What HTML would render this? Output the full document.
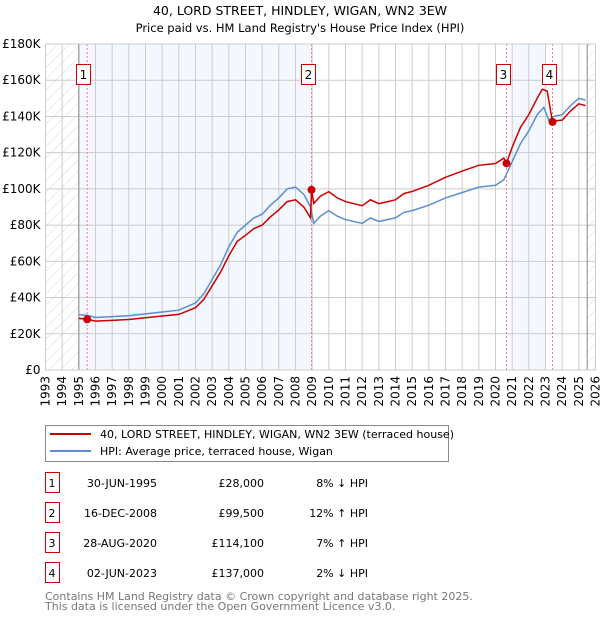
<!DOCTYPE html>
<html><head><meta charset="utf-8"><style>
body{margin:0;background:#fff}
svg text{font-family:"DejaVu Sans","Liberation Sans",sans-serif}
</style></head><body>
<svg id="c" width="600" height="620" xmlns="http://www.w3.org/2000/svg">
<defs><pattern id="h" width="8" height="8" patternUnits="userSpaceOnUse" patternTransform="rotate(45)"><line x1="0" y1="0" x2="0" y2="8" stroke="#d8d8d8" stroke-width="1"/></pattern></defs>
<text x="300" y="15" text-anchor="middle" font-size="12.5">40, LORD STREET, HINDLEY, WIGAN, WN2 3EW</text>
<text x="300" y="32" text-anchor="middle" font-size="11.5">Price paid vs. HM Land Registry's House Price Index (HPI)</text>
<g id="plot"></g>
<g>
<rect x="45.5" y="425.5" width="403" height="36" fill="#fff" stroke="#888"/>
<line x1="50" y1="434" x2="91" y2="434" stroke="#cc0000" stroke-width="2"/>
<text x="100" y="438" font-size="11">40, LORD STREET, HINDLEY, WIGAN, WN2 3EW (terraced house)</text>
<line x1="50" y1="451" x2="91" y2="451" stroke="#5b8fd0" stroke-width="2"/>
<text x="100" y="455" font-size="11">HPI: Average price, terraced house, Wigan</text>
</g>
<g id="tbl" font-size="11"></g>
<text x="45" y="600" font-size="11" fill="#777">Contains HM Land Registry data © Crown copyright and database right 2025.</text>
<text x="45" y="610" font-size="11" fill="#777">This data is licensed under the Open Government Licence v3.0.</text>
</svg>
<script>
const hpiYears=[1995.0,1995.5,1996,1997,1998,1999,2000,2001,2002,2002.5,2003,2003.5,2004,2004.5,2005,2005.5,2006,2006.5,2007,2007.5,2008,2008.5,2008.9,2009.1,2009.5,2010,2010.5,2011,2012,2012.5,2013,2014,2014.5,2015,2016,2017,2018,2019,2020,2020.5,2021,2021.5,2022,2022.5,2022.9,2023.2,2023.5,2024,2024.5,2025,2025.4];
const hpiValues=[30500,30200,29000,29500,30000,31000,32000,33000,37000,42000,50000,58000,68000,76000,80000,84000,86000,91000,95000,100000,101000,97000,90000,81000,85000,88000,85000,83000,81000,84000,82000,84000,87000,88000,91000,95000,98000,101000,102000,105000,115000,125000,132000,141000,145000,138000,140000,141000,146000,150000,149000];
const priceYears=[1995.0,1995.5,1996,1997,1998,1999,2000,2001,2002,2002.5,2003,2003.5,2004,2004.5,2005,2005.5,2006,2006.5,2007,2007.5,2008,2008.5,2008.9,2008.96,2009.1,2009.5,2010,2010.5,2011,2012,2012.5,2013,2014,2014.5,2015,2016,2017,2018,2019,2020,2020.5,2020.66,2021,2021.5,2022,2022.5,2022.8,2023.1,2023.42,2023.5,2024,2024.5,2025,2025.4];
const priceValues=[28500,28000,27000,27400,27900,28800,29800,30700,34400,39000,46500,54000,63000,71000,74400,78000,80000,84600,88400,93000,94000,90000,84000,99500,92000,96000,98500,95000,93000,90700,94000,91800,94000,97400,98600,102000,106400,109800,113000,114000,117000,114100,123000,134000,141000,150000,155000,154000,137000,137500,138000,143000,147000,146000];
const saleYears=[1995.5,2008.96,2020.66,2023.42];
const salePrices=[28000,99500,114100,137000];
const saleDates=["30-JUN-1995","16-DEC-2008","28-AUG-2020","02-JUN-2023"];
const salePriceLabels=["£28,000","£99,500","£114,100","£137,000"];
const saleHpiLabels=["8% ↓ HPI","12% ↑ HPI","7% ↑ HPI","2% ↓ HPI"];
const yTicks=[0,20000,40000,60000,80000,100000,120000,140000,160000,180000];
const yTickLabels=["£0","£20K","£40K","£60K","£80K","£100K","£120K","£140K","£160K","£180K"];
const xYears=[1993,1994,1995,1996,1997,1998,1999,2000,2001,2002,2003,2004,2005,2006,2007,2008,2009,2010,2011,2012,2013,2014,2015,2016,2017,2018,2019,2020,2021,2022,2023,2024,2025,2026];

const NS="http://www.w3.org/2000/svg";
const L=45.5,R=595.5,T=44,B=370;
const X=y=>L+(y-1993)/33*(R-L);
const Y=v=>B-v/180000*(B-T);
const g=document.getElementById('plot');
function mk(tag,a,p){const e=document.createElementNS(NS,tag);for(const k in a)e.setAttribute(k,a[k]);(p||g).appendChild(e);return e;}
let e;
e=mk('rect',{x:X(1995),y:T,width:X(2009)-X(1995),height:B-T,fill:'#f3f7fe'});


e=mk('rect',{x:X(2021),y:T,width:X(2023)-X(2021),height:B-T,fill:'#f3f7fe'});


e=mk('rect',{x:L,y:T,width:X(1995)-L,height:B-T,fill:'url(#h)'});


e=mk('rect',{x:X(2025.5),y:T,width:R-X(2025.5),height:B-T,fill:'url(#h)'});


xYears.forEach(yr=>{
 e=mk('line',{x1:X(yr),x2:X(yr),y1:T,y2:B,stroke:'#ccc'});
 
 
 const t=mk('text',{x:0,y:0,'font-size':12,'text-anchor':'end',transform:`translate(${X(yr)+4},${B+6}) rotate(-90)`});
 t.textContent=yr;
 
 
});
yTicks.forEach((v,i)=>{
 e=mk('line',{x1:L,x2:R,y1:Y(v),y2:Y(v),stroke:'#ccc'});
 
 
 const t=mk('text',{x:L-5,y:Y(v)+4,'font-size':12,'text-anchor':'end'});
 t.textContent=yTickLabels[i];
 
 
});
e=mk('line',{x1:X(1995),x2:X(1995),y1:T,y2:B,stroke:'#888'});


e=mk('line',{x1:X(2025.5),x2:X(2025.5),y1:T,y2:B,stroke:'#888'});


saleYears.forEach((yr,i)=>{
 e=mk('line',{x1:X(yr),x2:X(yr),y1:T,y2:B,stroke:'#f08080','stroke-dasharray':'2,2'});
 
 
});
function pts(xs,vs){return xs.map((x,i)=>X(x).toFixed(1)+','+Y(vs[i]).toFixed(1)).join(' ');}
e=mk('polyline',{points:pts(hpiYears,hpiValues),fill:'none',stroke:'#5b8fd0','stroke-width':1.5});


e=mk('polyline',{points:pts(priceYears,priceValues),fill:'none',stroke:'#cc0000','stroke-width':1.5});


saleYears.forEach((yr,i)=>{
 e=mk('circle',{cx:X(yr),cy:Y(salePrices[i]),r:4,fill:'#cc0000'});
 
 
 const bx=Math.round(X(yr)-10);
 e=mk('rect',{x:bx-0.5,y:64.5,width:14,height:20,fill:'#fff',stroke:'#cc0000'});
 
 
 const t=mk('text',{x:bx+6.5,y:79,'font-size':12,'text-anchor':'middle'});
 t.textContent=i+1;
 
 
});
mk('rect',{x:L,y:T,width:R-L,height:B-T,fill:'none',stroke:'#ccc'});
const tb=document.getElementById('tbl');
saleDates.forEach((d,i)=>{
 const cy=483+i*30;
 e=mk('rect',{x:45.5,y:cy-10.5,width:14,height:20,fill:'#fff',stroke:'#cc0000'},tb);
 
 
 const cells=[[52,'middle',String(i+1),'table-row-number'],[157,'end',d,'table-date'],[264,'end',salePriceLabels[i],'table-price'],[368,'end',saleHpiLabels[i],'table-hpi-diff']];
 cells.forEach(c=>{
  const t=mk('text',{x:c[0],y:cy+4,'text-anchor':c[1]},tb);
  t.textContent=c[2];
  
  
 });
});
</script>
</body></html>
